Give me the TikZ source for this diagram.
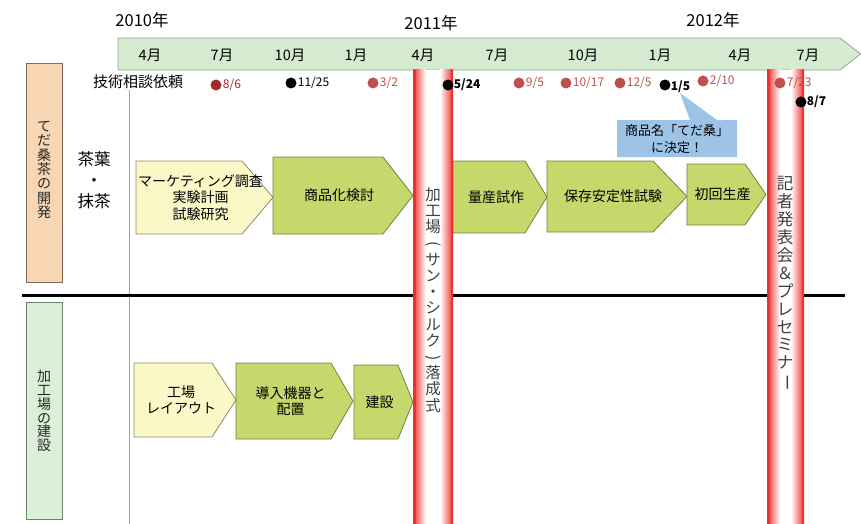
\documentclass[tikz,border=0pt]{standalone}
\usepackage{fontspec}
\setmainfont{Noto Sans CJK JP}
\usepackage{graphicx}
\definecolor{tlfill}{HTML}{D4EBCF}
\definecolor{tldraw}{HTML}{8DAF88}
\definecolor{lyfill}{HTML}{FBF8C8}
\definecolor{lydraw}{HTML}{8C8C6C}
\definecolor{gyfill}{HTML}{C4D86C}
\definecolor{gydraw}{HTML}{6F8440}
\definecolor{calfill}{HTML}{9DC3E6}
\definecolor{peach}{HTML}{F8D6B3}
\definecolor{peachdraw}{HTML}{7F6A5C}
\definecolor{lgreen}{HTML}{DCEFD8}
\definecolor{lgreendraw}{HTML}{6A8468}
\definecolor{barred}{HTML}{EE3030}
\definecolor{dotred}{HTML}{C0504D}
\definecolor{dotdark}{HTML}{A52A2A}
\definecolor{txtgray}{HTML}{404040}
\newcommand\mychev[8]{% style, x1, y1, x2, y2, xt, name, text
  \draw[#1] (#2,#3) -- (#6,#3) -- (#4,{(#3+#5)/2}) -- (#6,#5) -- (#2,#5) -- cycle;
  \node[chevtext] (#7) at ({(#2+#4)/2-4},{(#3+#5)/2}) {#8};
}
\newcommand\mybar[3]{% x1, x2, top
  \fill[white] (#1,#3) rectangle (#2,524);
  \shade[left color=barred, right color=white] (#1,#3) rectangle ({#1+13},524);
  \shade[left color=white, right color=barred] ({#2-13},#3) rectangle (#2,524);
  \fill[barred] (#1,#3) rectangle ({#1+2.5},524);
  \fill[barred] ({#2-2.5},#3) rectangle (#2,524);
}
\newcommand\rot[1]{\rotatebox[origin=c]{-90}{#1}}
\begin{document}
\begin{tikzpicture}[x=1pt,y=-1pt,
  lightchev/.style={fill=lyfill,draw=lydraw,line width=0.8pt},
  darkchev/.style={fill=gyfill,draw=gydraw,line width=0.8pt},
  chevtext/.style={font=\fontsize{14}{16.5}\selectfont,align=center,text=black,inner sep=0},
  month/.style={font=\fontsize{14.5}{16}\selectfont,inner sep=0},
  year/.style={font=\fontsize{16.5}{18}\selectfont,inner sep=0},
  dot/.style={circle,inner sep=0,minimum size=11pt},
  dlabel/.style={font=\fontsize{12}{13}\selectfont,inner sep=0,anchor=west},
  blabel/.style={font=\fontsize{12}{13}\bfseries,inner sep=0,anchor=west,text=black},
  vtext/.style={align=center,inner sep=0,text=txtgray},
]
\useasboundingbox (0,0) rectangle (861,524);
\fill[white] (0,0) rectangle (861,524);

% years
\node[year] (y10) at (142,20) {2010年};
\node[year] (y11) at (431,23) {2011年};
\node[year] (y12) at (713,20) {2012年};

% timeline arrow
\draw[fill=tlfill,draw=tldraw,line width=0.8pt] (118,38) -- (840,38) -- (860.5,54) -- (840,70) -- (118,70) -- cycle;
\node[month] (m1) at (150,55) {4月};
\node[month] (m2) at (222,55) {7月};
\node[month] (m3) at (290,55) {10月};
\node[month] (m4) at (356,55) {1月};
\node[month] (m5) at (423,55) {4月};
\node[month] (m6) at (497,55) {7月};
\node[month] (m7) at (583,55) {10月};
\node[month] (m8) at (660,55) {1月};
\node[month] (m9) at (740,55) {4月};
\node[month] (m10) at (808,55) {7月};

% left labels
\draw[fill=peach,draw=peachdraw,line width=1pt] (26,64) rectangle (62,282);
\node[vtext,text=black!85,font=\fontsize{14}{14.4}\selectfont] (lab1) at (44,170) {て\\だ\\桑\\茶\\の\\開\\発};
\draw[fill=lgreen,draw=lgreendraw,line width=1pt] (26,302) rectangle (62,519);
\node[vtext,text=black!85,font=\fontsize{14}{13.7}\selectfont] (lab2) at (44,411) {加\\工\\場\\の\\建\\設};
\node[inner sep=0,font=\fontsize{16.5}{24}\selectfont,align=center] (cha) at (94,180) {茶葉\\[-3pt]・\\[-3pt]抹茶};

% lines
\draw[gray!75,line width=1pt] (129,90) -- (129,524);
\draw[black,line width=3pt] (22,295) -- (845,295);

% consultation requests
\node[inner sep=0,font=\fontsize{15}{16}\selectfont] (req) at (138,82) {技術相談依頼};
\node[dot,fill=dotdark] (d1) at (216,85) {};
\node[dlabel,text=dotdark] (l1) at ([xshift=1pt]d1.east) {8/6};
\node[dot,fill=black] (d2) at (291,83) {};
\node[dlabel,text=black] (l2) at ([xshift=1pt]d2.east) {11/25};
\node[dot,fill=dotred] (d3) at (373,83) {};
\node[dlabel,text=dotred] (l3) at ([xshift=1pt]d3.east) {3/2};
\node[dot,fill=dotred] (d7) at (519,83) {};
\node[dlabel,text=dotred] (l7) at ([xshift=1pt]d7.east) {9/5};
\node[dot,fill=dotred] (d8) at (566,83) {};
\node[dlabel,text=dotred] (l8) at ([xshift=1pt]d8.east) {10/17};
\node[dot,fill=dotred] (d9) at (620,83) {};
\node[dlabel,text=dotred] (l9) at ([xshift=1pt]d9.east) {12/5};
\node[dot,fill=black] (d10) at (665,85) {};
\node[blabel] (l10) at ([yshift=-1.5pt]d10.east) {1/5};
\node[dot,fill=dotred] (d11) at (703,81) {};
\node[dlabel,text=dotred] (l11) at ([xshift=1pt]d11.east) {2/10};

% callout
\draw[fill=calfill,draw=none] (617,120) -- (690,120) -- (680,93) -- (717,120) -- (737,120) -- (737,157) -- (617,157) -- cycle;
\node[inner sep=0,align=center,font=\fontsize{13}{17}\selectfont] (call) at (677,139) {商品名「てだ桑」\\に決定！};

% chevrons top row
\mychev{lightchev}{136}{161}{273}{234}{242}{c1}{マーケティング調査\\実験計画\\試験研究}
\mychev{darkchev}{273}{157}{413}{234}{383}{c2}{商品化検討}
\mychev{darkchev}{453}{161}{547}{233}{525}{c3}{量産試作}
\mychev{darkchev}{547}{161}{687}{232}{653}{c4}{保存安定性試験}
\mychev{darkchev}{687}{164}{766}{225}{745}{c5}{初回生産}
% chevrons bottom row
\mychev{lightchev}{134}{363}{236}{437}{212}{c6}{工場\\レイアウト}
\mychev{darkchev}{236}{363}{353}{439}{331}{c7}{導入機器と\\配置}
\mychev{darkchev}{354}{365}{413}{439}{398}{c8}{建設}

% red bars
\mybar{413}{453}{70}
\mybar{767}{804}{70}
\node[vtext,font=\fontsize{15.5}{16.2}\selectfont] (bt1) at (433,300) {加\\工\\場\\\rot{(}\\サ\\ン\\・\\シ\\ル\\ク\\\rot{)}\\落\\成\\式};
\node[vtext,font=\fontsize{16.5}{17.9}\selectfont] (bt2) at (785,284) {記\\者\\発\\表\\会\\＆\\プ\\レ\\セ\\ミ\\ナ\\\rot{ー}};

% dots over bars
\node[dot,fill=black] (d4) at (448,85) {};
\node[blabel] (l4) at (d4.east) {5/24};
\node[dot,fill=dotred] (d12) at (780,83) {};
\node[dlabel,text=dotred] (l12) at ([xshift=1pt]d12.east) {7/23};
\node[dot,fill=black] (d13) at (801,102) {};
\node[blabel] (l13) at (d13.east) {8/7};
\end{tikzpicture}
\end{document}
